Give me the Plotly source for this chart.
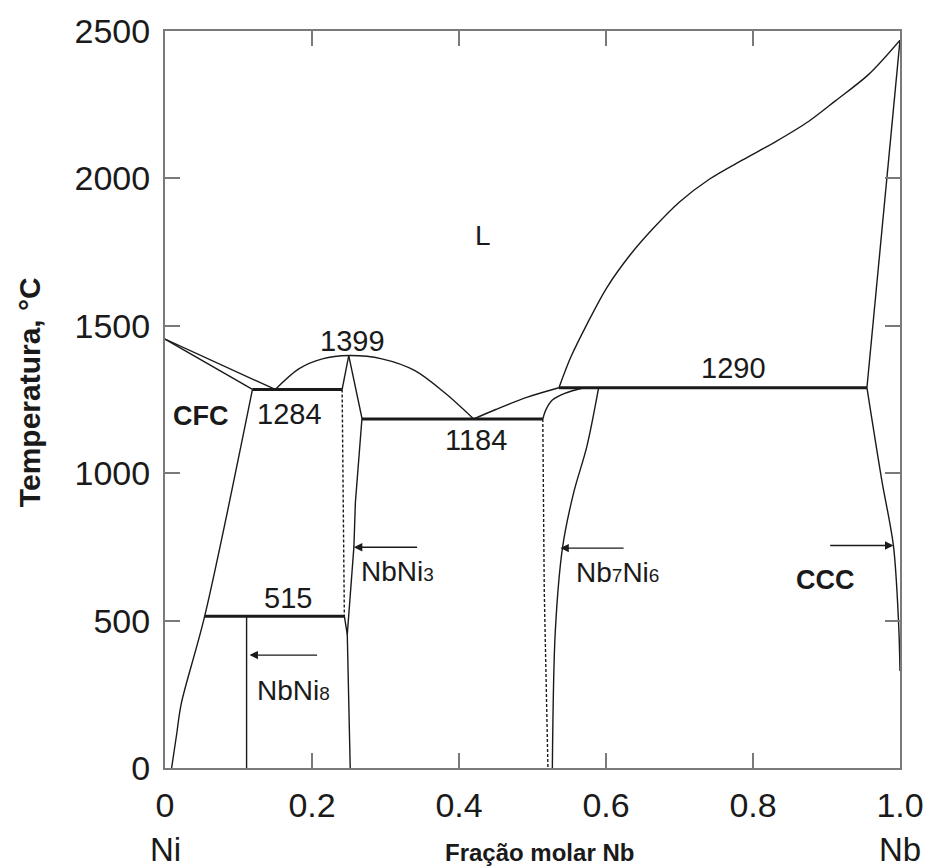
import plotly.graph_objects as go

# ---------------- data (mole fraction Nb, temperature °C) ----------------
ni_liq_x = [0.0, 0.15]
ni_liq_t = [1455, 1284]
ni_sol_x = [0.0, 0.119]
ni_sol_t = [1455, 1284]
cfc_solvus_x = [0.119, 0.054, 0.022, 0.016, 0.009]
cfc_solvus_t = [1284, 515, 217, 117, 0]

dome_x = [0.15, 0.182, 0.214, 0.25, 0.295, 0.34, 0.381, 0.42]
dome_t = [1284, 1354, 1388, 1399, 1388, 1348, 1272, 1184]

eut1284_x = [0.119, 0.241]
eut1284_t = [1284, 1284]
eut515_x = [0.054, 0.244]
eut515_t = [515, 515]
eut1184_x = [0.268, 0.514]
eut1184_t = [1184, 1184]
per1290_x = [0.536, 0.955]
per1290_t = [1290, 1290]

nbni8_x = [0.111, 0.111]
nbni8_t = [515, 0]

nbni3_left_top_x = [0.25, 0.241]
nbni3_left_top_t = [1399, 1284]
nbni3_left_dash_x = [0.241, 0.242, 0.244]
nbni3_left_dash_t = [1284, 900, 515]
nbni3_left_low_x = [0.244, 0.248]
nbni3_left_low_t = [515, 453]
nbni3_right_x = [0.25, 0.268, 0.259, 0.257, 0.248, 0.252]
nbni3_right_t = [1399, 1186, 900, 750, 453, 0]

liq_mid_x = [0.42, 0.45, 0.493, 0.536]
liq_mid_t = [1184, 1216, 1258, 1290]

nb7_left_dash_x = [0.514, 0.516, 0.521]
nb7_left_dash_t = [1184, 600, 0]
nb7_top_x = [0.514, 0.518, 0.527, 0.543, 0.57]
nb7_top_t = [1184, 1214, 1248, 1270, 1290]
nb7_right_x = [0.59, 0.574, 0.556, 0.541, 0.531, 0.527]
nb7_right_t = [1290, 1091, 934, 750, 463, 0]

nb_liq_x = [0.536, 0.552, 0.574, 0.601, 0.633, 0.664, 0.700, 0.741, 0.786,
            0.831, 0.876, 0.912, 0.957, 1.0]
nb_liq_t = [1290, 1393, 1505, 1629, 1741, 1830, 1920, 1998, 2063,
            2125, 2194, 2263, 2352, 2469]
nb_sol_x = [0.955, 1.0]
nb_sol_t = [1290, 2469]
ccc_solvus_x = [0.955, 0.975, 0.991, 0.998, 1.0]
ccc_solvus_t = [1290, 979, 755, 497, 329]

x_ticks = [0, 0.2, 0.4, 0.6, 0.8, 1.0]
x_tick_text = ["0", "0.2", "0.4", "0.6", "0.8", "1.0"]
y_ticks = [0, 500, 1000, 1500, 2000, 2500]
y_tick_text = ["0", "500", "1000", "1500", "2000", "2500"]

SUB = '<span style="font-size:19px">{}</span>'
# labels: (text, x, y, anchor)
temp_labels = [("1455", -0.01, 1385, "right"), ("1399", 0.255, 1450, "center"),
               ("1284", 0.17, 1200, "center"), ("1184", 0.423, 1112, "center"),
               ("1290", 0.773, 1357, "center"), ("515", 0.168, 575, "center")]
phase_labels = [("L", 0.432, 1808, "center", False),
                ("CFC", 0.049, 1193, "center", True),
                ("CCC", 0.899, 638, "center", True),
                ("NbNi" + SUB.format("3"), 0.264, 665, "left", False),
                ("NbNi" + SUB.format("8"), 0.122, 262, "left", False),
                ("Nb" + SUB.format("7") + "Ni" + SUB.format("6"), 0.557, 662,
                 "left", False)]
# arrows: (tail x, head x, temperature)
arrows = [(0.209, 0.115, 383), (0.345, 0.257, 749),
          (0.626, 0.538, 746), (0.903, 0.991, 755)]

FONT = "Liberation Sans, Arial, sans-serif"
INK = "#1a1a1a"

fig = go.Figure()


def add(x, t, width=1.4, dash="solid", spline=False):
    fig.add_trace(go.Scatter(
        x=x, y=t, mode="lines", hoverinfo="skip", showlegend=False,
        line=dict(color=INK, width=width, dash=dash,
                  shape="spline" if spline else "linear", smoothing=0.9),
        cliponaxis=False))


add(ni_liq_x, ni_liq_t)
add(ni_sol_x, ni_sol_t)
add(cfc_solvus_x, cfc_solvus_t, spline=True)
add(dome_x, dome_t, spline=True)
add(nbni8_x, nbni8_t)
add(nbni3_left_top_x, nbni3_left_top_t)
add(nbni3_left_dash_x, nbni3_left_dash_t, dash="3px,2px")
add(nbni3_left_low_x, nbni3_left_low_t)
add(nbni3_right_x, nbni3_right_t)
add(liq_mid_x, liq_mid_t, spline=True)
add(nb7_left_dash_x, nb7_left_dash_t, dash="3px,2px")
add(nb7_top_x, nb7_top_t, spline=True)
add(nb7_right_x, nb7_right_t, spline=True)
add(nb_liq_x, nb_liq_t, spline=True)
add(nb_sol_x, nb_sol_t)
add(ccc_solvus_x, ccc_solvus_t, spline=True)
for xs, ts in [(eut1284_x, eut1284_t), (eut515_x, eut515_t),
               (eut1184_x, eut1184_t), (per1290_x, per1290_t)]:
    add(xs, ts, width=3)

ann = []
for txt, x, y, anc in temp_labels:
    ann.append(dict(x=x, y=y, xref="x", yref="y", text=txt, showarrow=False,
                    xanchor=anc, yanchor="middle",
                    font=dict(family=FONT, size=29, color=INK)))
for txt, x, y, anc, bold in phase_labels:
    ann.append(dict(x=x, y=y, xref="x", yref="y",
                    text=f"<b>{txt}</b>" if bold else txt, showarrow=False,
                    xanchor=anc, yanchor="middle",
                    font=dict(family=FONT, size=27 if bold else 28, color=INK)))
for tail, head, t in arrows:
    ann.append(dict(x=head, y=t, ax=tail, ay=t, xref="x", yref="y",
                    axref="x", ayref="y", text="", showarrow=True,
                    arrowhead=2, arrowsize=1.2, arrowwidth=1.4,
                    arrowcolor=INK))

# composition end labels and axis titles
ann.append(dict(x=0.0, y=-0.11, xref="x", yref="paper", text="Ni",
                showarrow=False, xanchor="center", yanchor="middle",
                font=dict(family=FONT, size=33, color=INK)))
ann.append(dict(x=1.0, y=-0.11, xref="x", yref="paper", text="Nb",
                showarrow=False, xanchor="center", yanchor="middle",
                font=dict(family=FONT, size=33, color=INK)))
ann.append(dict(x=0.509, y=-0.114, xref="paper", yref="paper",
                text="<b>Fração molar Nb</b>", showarrow=False,
                xanchor="center", yanchor="middle",
                font=dict(family=FONT, size=24, color=INK)))
ann.append(dict(x=-0.185, y=0.51, xref="paper", yref="paper",
                text="<b>Temperatura, °C</b>", showarrow=False, textangle=-90,
                xanchor="center", yanchor="middle",
                font=dict(family=FONT, size=30, color=INK)))

axis_common = dict(showgrid=False, zeroline=False, showline=True,
                   linecolor="#7a7a7a", linewidth=2, mirror="allticks",
                   ticks="inside", ticklen=15, tickwidth=2, tickcolor="#7a7a7a",
                   tickfont=dict(family=FONT, size=34, color=INK))

fig.update_layout(
    width=936, height=868,
    margin=dict(l=165, r=31, t=24, b=100),
    paper_bgcolor="white", plot_bgcolor="white",
    xaxis=dict(range=[0, 1], tickvals=x_ticks, ticktext=x_tick_text,
               ticklabelstandoff=6, **axis_common),
    yaxis=dict(range=[0, 2500], tickvals=y_ticks, ticktext=y_tick_text,
               ticklabelstandoff=6, **axis_common),
    annotations=ann,
)

fig.write_html("out.html")
